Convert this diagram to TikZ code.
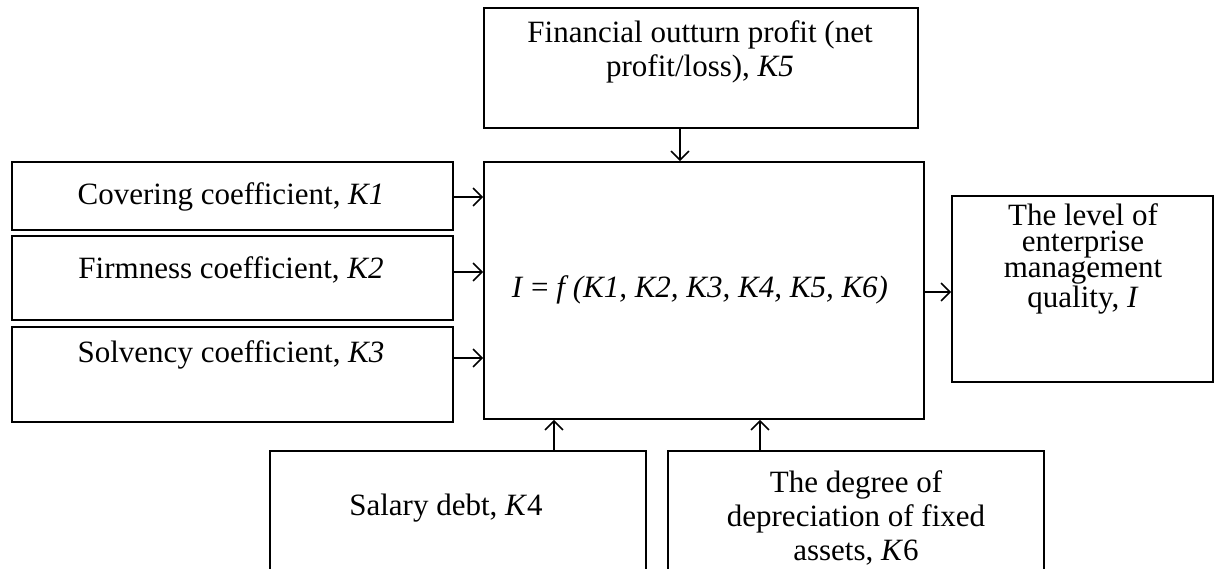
\documentclass[tikz,border=0pt]{standalone}
\usepackage{fontspec}
\setmainfont{Liberation Serif}
\usetikzlibrary{arrows.meta}
\begin{document}
\begin{tikzpicture}[x=1pt,y=-1pt,
  box/.style={draw=black,line width=1.6pt,rectangle,inner sep=0pt},
  txt/.style={inner sep=0pt,align=center,font=\fontsize{31}{34}\selectfont},
  arr/.style={line width=1.6pt,-{Straight Barb[length=9pt,width=18pt,line width=1.6pt]}}]
\clip (0,0) rectangle (1214,569);
\fill[white] (0,0) rectangle (1214,569);
% boxes
\node[box,minimum width=434pt,minimum height=120pt] (k5) at (701,68) {};
\node[box,minimum width=440pt,minimum height=257pt] (c) at (704,290.5) {};
\node[box,minimum width=441pt,minimum height=68pt] (k1) at (232.5,196) {};
\node[box,minimum width=441pt,minimum height=84pt] (k2) at (232.5,278) {};
\node[box,minimum width=441pt,minimum height=95pt] (k3) at (232.5,374.5) {};
\node[box,minimum width=261pt,minimum height=186pt] (q) at (1082.5,289) {};
\node[box,minimum width=376pt,minimum height=160pt] (k4) at (458,531) {};
\node[box,minimum width=376pt,minimum height=160pt] (k6) at (856,531) {};
% texts (multi-line nodes: base anchor is the last line's baseline)
\node[txt,anchor=base] (t5) at (700,77) {Financial outturn profit (net\\profit/loss), \textit{K5}};
\node[txt,anchor=base] (tc) at (700,297) {\textit{I} = \textit{f (K1, K2, K3, K4, K5, K6)}};
\node[txt,anchor=base] (t1) at (231,205) {Covering coefficient, \textit{K1}};
\node[txt,anchor=base] (t2) at (231,278) {Firmness coefficient, \textit{K2}};
\node[txt,anchor=base] (t3) at (231,362) {Solvency coefficient, \textit{K3}};
\node[txt,anchor=base,font=\fontsize{31}{26}\selectfont] (tq) at (1083,307) {The level of\\enterprise\\management\\quality, \textit{I}};
\node[txt,anchor=base] (t4) at (446,515) {Salary debt, \textit{K}4};
\node[txt,anchor=base] (t6) at (856,560) {The degree of\\depreciation of fixed\\assets, \textit{K}6};
% connectors
\draw[arr] (k5.south -| 680,0) -- (c.north -| 680,0);
\draw[arr] (k1.east |- 0,197) -- (c.west |- 0,197);
\draw[arr] (k2.east |- 0,272) -- (c.west |- 0,272);
\draw[arr] (k3.east |- 0,358) -- (c.west |- 0,358);
\draw[arr] (c.east |- 0,292) -- (q.west |- 0,292);
\draw[arr] (k4.north -| 554,0) -- (c.south -| 554,0);
\draw[arr] (k6.north -| 760,0) -- (c.south -| 760,0);
\end{tikzpicture}
\end{document}
